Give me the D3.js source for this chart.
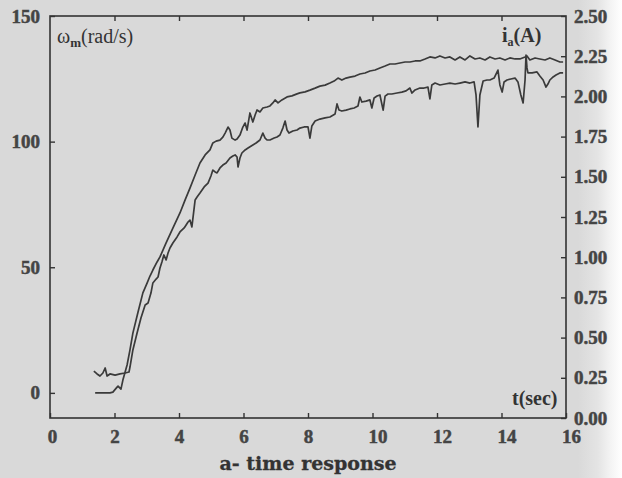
<!DOCTYPE html>
<html>
<head>
<meta charset="utf-8">
<script src="https://cdn.jsdelivr.net/npm/d3@7"></script>
<style>
  html, body { margin: 0; padding: 0; background: #d9d9d9; }
  svg { display: block; }
</style>
</head>
<body>
<svg id="chart" width="622" height="478"></svg>
<script>
// ---- Data ----
const xTicks = [0, 2, 4, 6, 8, 10, 12, 14, 16];
const leftTicks = [0, 50, 100, 150];
const rightTicks = [0, 0.25, 0.5, 0.75, 1.0, 1.25, 1.5, 1.75, 2.0, 2.25, 2.5];

// speed omega_m (rad/s), left axis
const speedT = [1.40,1.67,1.86,1.95,2.08,2.11,2.20,2.26,2.39,2.48,2.57,2.73,2.88,3.01,3.10,3.19,3.32,3.41,3.60,3.81,4.03,4.19,4.34,4.50,4.65,4.81,4.96,5.05,5.15,5.27,5.36,5.43,5.52,5.58,5.64,5.74,5.80,5.89,5.98,6.05,6.11,6.20,6.29,6.36,6.42,6.51,6.60,6.73,6.82,6.91,6.98,7.07,7.19,7.35,7.50,7.66,7.75,7.91,8.06,8.22,8.37,8.53,8.68,8.81,8.93,9.05,9.18,9.30,9.46,9.61,9.77,9.92,10.08,10.23,10.39,10.54,10.70,10.85,11.01,11.16,11.32,11.47,11.63,11.78,11.94,12.09,12.25,12.40,12.56,12.71,12.87,13.02,13.18,13.33,13.49,13.64,13.80,13.95,14.11,14.26,14.42,14.57,14.73,14.79,14.88,15.04,15.19,15.35,15.50,15.66,15.81,15.91];
const speedV = [0.0,0.0,0.0,0.3,2.3,2.7,1.5,5.1,11.1,17.1,23.8,32.2,39.8,43.7,46.5,48.9,52.1,54.1,59.7,65.6,71.6,76.8,81.5,86.7,91.5,94.7,96.7,99.5,100.2,100.6,101.8,103.4,105.8,104.6,101.4,100.6,101.0,102.6,105.8,107.4,104.6,111.4,107.8,110.6,112.6,111.8,113.4,113.8,114.2,115.4,116.6,115.4,116.6,117.8,118.2,119.0,119.4,119.8,120.5,121.3,122.1,122.5,123.3,124.1,125.3,124.5,125.3,125.7,126.1,126.9,127.3,128.1,128.5,129.3,130.1,130.9,130.9,131.3,131.7,131.7,132.1,132.1,132.9,133.7,133.3,134.1,133.3,133.7,132.5,133.7,132.5,134.1,132.9,133.3,132.5,133.7,132.9,133.3,132.5,133.3,132.9,132.9,133.7,134.1,132.5,133.3,132.9,132.5,133.3,132.5,131.7,131.7];

// armature current i_a (A), right axis
const currT = [1.36,1.46,1.55,1.64,1.71,1.77,1.86,2.02,2.17,2.33,2.45,2.48,2.57,2.70,2.82,2.95,3.04,3.13,3.19,3.29,3.35,3.41,3.47,3.53,3.60,3.66,3.72,3.81,3.94,4.03,4.16,4.28,4.34,4.40,4.50,4.56,4.65,4.78,4.90,4.99,5.05,5.12,5.18,5.27,5.36,5.46,5.58,5.67,5.74,5.80,5.83,5.89,5.95,6.05,6.14,6.29,6.39,6.51,6.60,6.67,6.73,6.82,6.95,7.04,7.13,7.22,7.29,7.35,7.41,7.53,7.66,7.75,7.88,8.00,8.06,8.12,8.22,8.37,8.53,8.68,8.84,8.90,8.96,9.05,9.18,9.30,9.43,9.55,9.61,9.67,9.80,9.92,9.98,10.05,10.14,10.23,10.33,10.39,10.48,10.60,10.76,10.91,11.04,11.16,11.22,11.32,11.47,11.60,11.72,11.78,11.84,11.94,12.09,12.25,12.40,12.56,12.71,12.87,13.02,13.15,13.21,13.27,13.33,13.43,13.55,13.64,13.77,13.89,13.95,14.02,14.08,14.17,14.29,14.42,14.51,14.60,14.67,14.73,14.76,14.79,14.82,14.95,15.10,15.19,15.29,15.38,15.44,15.50,15.60,15.69,15.81,15.91];
const currV = [0.292,0.274,0.261,0.280,0.311,0.261,0.274,0.267,0.274,0.280,0.286,0.317,0.423,0.529,0.622,0.703,0.715,0.777,0.840,0.864,0.877,0.933,0.970,1.014,0.983,1.026,1.057,1.088,1.126,1.157,1.182,1.219,1.231,1.188,1.356,1.374,1.399,1.437,1.461,1.505,1.542,1.530,1.524,1.555,1.573,1.586,1.617,1.629,1.636,1.623,1.561,1.617,1.648,1.667,1.679,1.698,1.710,1.729,1.772,1.741,1.729,1.729,1.741,1.748,1.760,1.803,1.847,1.791,1.772,1.785,1.791,1.803,1.810,1.810,1.741,1.816,1.847,1.859,1.866,1.872,1.891,1.953,1.915,1.909,1.915,1.922,1.928,1.940,1.996,1.965,1.971,1.978,1.928,1.990,2.002,2.009,1.915,2.002,2.015,2.015,2.021,2.027,2.034,2.052,2.021,2.040,2.052,2.052,2.058,1.984,2.071,2.083,2.071,2.077,2.083,2.077,2.083,2.090,2.083,2.090,2.009,1.810,2.009,2.096,2.102,2.102,2.114,2.164,2.071,2.027,2.090,2.102,2.108,2.114,2.090,2.009,1.959,2.102,2.257,2.177,2.146,2.146,2.152,2.127,2.102,2.058,2.077,2.102,2.121,2.133,2.146,2.146];

// ---- Drawing ----
const svg = d3.select("#chart");
const W = 622, H = 478;
const L = 50, R = 566, T = 16, B = 418;

const defs = svg.append("defs");
const grad = defs.append("linearGradient").attr("id", "scanfade")
  .attr("x1", "0").attr("x2", "1").attr("y1", "0").attr("y2", "0");
grad.append("stop").attr("offset", "0").attr("stop-color", "#d9d9d9");
grad.append("stop").attr("offset", "0.45").attr("stop-color", "#e4e4e4");
grad.append("stop").attr("offset", "0.75").attr("stop-color", "#f4f4f4");
grad.append("stop").attr("offset", "1").attr("stop-color", "#ffffff");

svg.append("rect").attr("width", W).attr("height", H).attr("fill", "#d9d9d9");
svg.append("rect").attr("x", 578).attr("y", 0).attr("width", W - 578).attr("height", H).attr("fill", "url(#scanfade)");

const x = d3.scaleLinear().domain([0, 16]).range([L, R]);
const yL = d3.scaleLinear().domain([-10, 150]).range([B, T]);
const yR = d3.scaleLinear().domain([0, 2.5]).range([B, T]);

const axisColor = "#333";
const tickFont = "'Liberation Serif', 'Times New Roman', serif";

function styleAxis(g) {
  g.select(".domain").remove();
  g.selectAll(".tick line").attr("stroke", axisColor).attr("stroke-width", 1.4);
  g.selectAll(".tick text")
    .attr("fill", "#444")
    .attr("stroke", "#444")
    .attr("stroke-width", 0.5)
    .style("font-family", tickFont)
    .style("font-weight", "bold")
    .style("font-size", "19px");
}

// bottom axis
const gB = svg.append("g").attr("transform", `translate(0,${B})`)
  .call(d3.axisBottom(x).tickValues(xTicks).tickSize(-5).tickPadding(12).tickFormat(d3.format("d")));
styleAxis(gB);
gB.selectAll(".tick text").attr("dx", d => d >= 10 ? 5 : (d === 0 ? 2 : 0));

// top axis (ticks only)
const gT = svg.append("g").attr("transform", `translate(0,${T})`)
  .call(d3.axisTop(x).tickValues(xTicks.slice(1, -1)).tickSize(-5).tickFormat(""));
styleAxis(gT);

// left axis
const gL = svg.append("g").attr("transform", `translate(${L},0)`)
  .call(d3.axisLeft(yL).tickValues(leftTicks).tickSize(-5).tickPadding(10).tickFormat(d3.format("d")));
styleAxis(gL);

// right axis
const gR = svg.append("g").attr("transform", `translate(${R},0)`)
  .call(d3.axisRight(yR).tickValues(rightTicks).tickSize(-5).tickPadding(8).tickFormat(d3.format(".2f")));
styleAxis(gR);

// frame
svg.append("rect").attr("x", L).attr("y", T).attr("width", R - L).attr("height", B - T)
  .attr("fill", "none").attr("stroke", axisColor).attr("stroke-width", 1.6);

// lines
const speedData = speedT.map((t, i) => [t, speedV[i]]);
const currData = currT.map((t, i) => [t, currV[i]]);

svg.append("path").datum(speedData)
  .attr("fill", "none").attr("stroke", "#3a3a3a").attr("stroke-width", 1.7)
  .attr("stroke-linejoin", "round")
  .attr("d", d3.line().x(d => x(d[0])).y(d => yL(d[1])));

svg.append("path").datum(currData)
  .attr("fill", "none").attr("stroke", "#3a3a3a").attr("stroke-width", 1.7)
  .attr("stroke-linejoin", "round")
  .attr("d", d3.line().x(d => x(d[0])).y(d => yR(d[1])));

// inner labels
const lw = svg.append("text").attr("x", 57).attr("y", 43)
  .attr("fill", "#333").style("font-family", tickFont).style("font-size", "20px");
lw.append("tspan").text("ω");
lw.append("tspan").attr("dy", 4).style("font-size", "13px").style("font-weight", "bold").text("m");
lw.append("tspan").attr("dy", -4).text("(rad/s)");

const li = svg.append("text").attr("x", 502).attr("y", 42)
  .attr("fill", "#333").style("font-family", tickFont).style("font-size", "20px").style("font-weight", "bold");
li.append("tspan").text("i");
li.append("tspan").attr("dy", 4).style("font-size", "12px").text("a");
li.append("tspan").attr("dy", -4).text("(A)");

svg.append("text").attr("x", 512).attr("y", 405)
  .attr("fill", "#333").style("font-family", tickFont).style("font-size", "20px").style("font-weight", "bold")
  .text("t(sec)");

// x-axis title
svg.append("text").attr("x", 308).attr("y", 470).attr("text-anchor", "middle")
  .attr("fill", "#333").attr("stroke", "#333").attr("stroke-width", 0.3)
  .style("font-family", "'DejaVu Serif', serif").style("font-size", "19px").style("font-weight", "bold")
  .text("a- time response");
</script>
</body>
</html>
